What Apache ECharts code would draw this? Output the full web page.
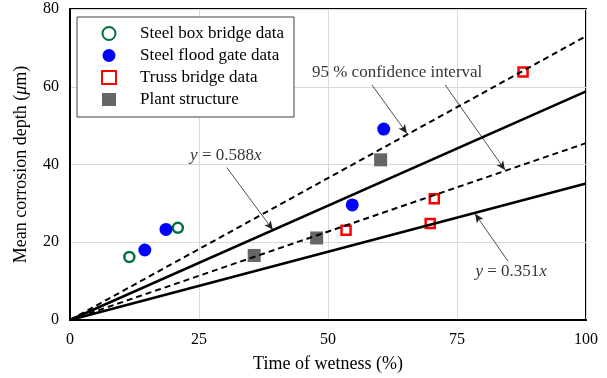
<!DOCTYPE html>
<html>
<head>
<meta charset="utf-8">
<script src="https://cdn.jsdelivr.net/npm/echarts@6/dist/echarts.min.js"></script>
<style>
html,body{margin:0;padding:0;background:#fff;}
#chart{width:607px;height:378px;}
</style>
</head>
<body>
<div id="chart"></div>
<script>
// ---- data ----
var xTicks = [0, 25, 50, 75, 100];
var yTicks = [0, 20, 40, 60, 80];
var seriesNames = ['Steel box bridge data', 'Steel flood gate data', 'Truss bridge data', 'Plant structure'];
var steelBox = [[11.5, 16.2], [20.9, 23.7]];
var floodGate = [[14.5, 18.0], [18.6, 23.3], [54.7, 29.6], [60.8, 49.1]];
var truss = [[53.5, 23.1], [69.8, 24.8], [70.6, 31.2], [87.8, 63.8]];
var plant = [[35.7, 16.6], [47.8, 21.1], [60.2, 41.2]];
// fitted lines: slope values
var fitUpper = 0.588;
var fitLower = 0.351;
var ciUpper = 0.73;
var ciLower = 0.455;
// annotation texts and anchor points (data coordinates)
var notes = [
  [30.2, 42.3, '{i|y} = 0.588{i|x}'],
  [63.4, 63.6, '95 % confidence interval'],
  [85.5, 12.4, '{i|y} = 0.351{i|x}']
];
var arrows = [
  [[30.4, 39.2], [39.3, 23.2]],
  [[58.5, 60.5], [65.3, 48.0]],
  [[72.7, 60.5], [84.3, 38.6]],
  [[84.9, 15.1], [78.5, 27.3]]
];

function lineData(k) { return [[0, 0], [100, 100 * k]]; }

var FONT = 'Liberation Serif';
var chart = echarts.init(document.getElementById('chart'), null, {renderer: 'canvas'});

var option = {
  animation: false,
  backgroundColor: '#fff',
  textStyle: {fontFamily: FONT, color: '#000'},
  grid: {left: 70, right: 21, top: 9, bottom: 57, show: true, borderColor: '#000', borderWidth: 2, containLabel: false},
  xAxis: {
    type: 'value', min: xTicks[0], max: xTicks[xTicks.length - 1], interval: 25,
    name: 'Time of wetness (%)', nameLocation: 'middle', nameGap: 35,
    nameTextStyle: {fontFamily: FONT, fontSize: 18, color: '#000'},
    axisLine: {show: true, lineStyle: {color: '#000', width: 2}},
    axisTick: {show: false},
    axisLabel: {fontFamily: FONT, fontSize: 16, fontWeight: 'normal', color: '#000', margin: 12},
    splitLine: {show: true, lineStyle: {color: '#d9d9d9', width: 1}}
  },
  yAxis: {
    type: 'value', min: yTicks[0], max: yTicks[yTicks.length - 1], interval: 20,
    name: 'Mean corrosion depth ({i|μ}m)', nameLocation: 'middle', nameGap: 40,
    nameTextStyle: {fontFamily: FONT, fontSize: 18, color: '#000',
      rich: {i: {fontFamily: FONT, fontSize: 18, fontStyle: 'italic', color: '#000'}}},
    axisLine: {show: true, lineStyle: {color: '#000', width: 2}},
    axisTick: {show: false},
    axisLabel: {fontFamily: FONT, fontSize: 16, fontWeight: 'normal', color: '#000', margin: 11},
    splitLine: {show: true, lineStyle: {color: '#d9d9d9', width: 1}}
  },
  legend: {
    data: seriesNames,
    orient: 'vertical', left: 77, top: 17,
    padding: [8, 10, 9, 24],
    itemWidth: 14, itemHeight: 13, itemGap: 5,
    backgroundColor: '#fff', borderColor: '#404040', borderWidth: 1,
    textStyle: {fontFamily: FONT, fontSize: 17, lineHeight: 17, color: '#000', padding: [0, 0, 0, 19]}
  },
  series: [
    {name: 'fit upper', type: 'line', data: lineData(fitUpper), symbol: 'none', z: 5,
      lineStyle: {color: '#000', width: 2.5, type: 'solid'}},
    {name: 'fit lower', type: 'line', data: lineData(fitLower), symbol: 'none', z: 5,
      lineStyle: {color: '#000', width: 2.5, type: 'solid'}},
    {name: 'ci upper', type: 'line', data: lineData(ciUpper), symbol: 'none', z: 5,
      lineStyle: {color: '#000', width: 2, type: [6, 4]}},
    {name: 'ci lower', type: 'line', data: lineData(ciLower), symbol: 'none', z: 5,
      lineStyle: {color: '#000', width: 2, type: [6, 4]}},
    {name: seriesNames[0], type: 'scatter', data: steelBox, symbol: 'circle', symbolSize: 10, z: 3,
      itemStyle: {color: '#fff', borderColor: '#00703c', borderWidth: 2.5, opacity: 1}},
    {name: seriesNames[1], type: 'scatter', data: floodGate, symbol: 'circle', symbolSize: 13, z: 3,
      itemStyle: {color: '#0000ff', opacity: 1}},
    {name: seriesNames[2], type: 'scatter', data: truss, symbol: 'rect', symbolSize: 9, z: 3,
      itemStyle: {color: '#fff', borderColor: '#ff0000', borderWidth: 2.5, opacity: 1}},
    {name: seriesNames[3], type: 'scatter', data: plant, symbol: 'rect', symbolSize: 13, z: 3,
      itemStyle: {color: '#666666', opacity: 1}},
    {name: 'notes', type: 'scatter', data: notes, symbolSize: 1, z: 6, silent: true,
      itemStyle: {color: 'rgba(255,255,255,0)'},
      label: {show: true, position: 'inside', fontFamily: FONT, fontSize: 17, color: '#000',
        formatter: function (p) { return p.data[2]; },
        rich: {i: {fontFamily: FONT, fontSize: 17, fontStyle: 'italic', color: '#000'}}},
      markLine: {
        silent: true, symbol: ['none', 'arrow'], symbolSize: [6, 9], animation: false,
        label: {show: false},
        lineStyle: {color: '#222', width: 0.8, type: 'solid'},
        data: arrows.map(function (a) { return [{coord: a[0]}, {coord: a[1]}]; })
      }}
  ]
};
chart.setOption(option);
</script>
</body>
</html>
